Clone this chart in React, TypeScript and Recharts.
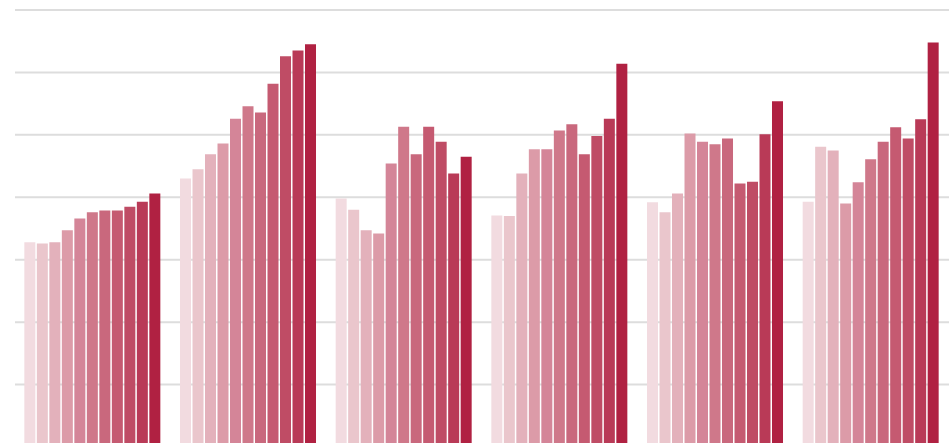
import React from 'react';
import { Bar, BarChart, CartesianGrid, XAxis, YAxis } from 'recharts';

// categories (no labels are shown in the chart)
const categories = ['A', 'B', 'C', 'D', 'E', 'F'];

// one array per category, 11 bars each (light -> dark)
const groupA = [32.8, 32.6, 32.8, 34.7, 36.6, 37.6, 37.9, 37.9, 38.5, 39.3, 40.6];
const groupB = [43.0, 44.5, 46.9, 48.6, 52.6, 54.6, 53.6, 58.2, 62.6, 63.5, 64.5];
const groupC = [39.8, 38.0, 34.7, 34.2, 45.4, 51.3, 46.9, 51.3, 48.9, 43.8, 46.5];
const groupD = [37.1, 37.0, 43.8, 47.7, 47.7, 50.7, 51.7, 46.9, 49.8, 52.6, 61.4];
const groupE = [39.2, 37.6, 40.6, 50.2, 48.9, 48.5, 49.4, 42.2, 42.5, 50.1, 55.4];
const groupF = [39.3, 48.1, 47.5, 39.0, 42.4, 46.1, 48.9, 51.2, 49.4, 52.5, 64.8];

const seriesKeys = ['s1', 's2', 's3', 's4', 's5', 's6', 's7', 's8', 's9', 's10', 's11'];
const seriesColors = [
  '#f2dbe0', '#eac6cc', '#e3b1bb', '#dc9ba8', '#d48598', '#cf788a',
  '#c9687d', '#c55a71', '#bf4c65', '#b93a57', '#b02142',
];
const yTicks = [0, 10, 20, 30, 40, 50, 60, 70];

const groups = [groupA, groupB, groupC, groupD, groupE, groupF];

// build rows for recharts
const data = categories.map((name, i) => {
  const row: Record<string, number | string> = { name };
  seriesKeys.forEach((key, j) => {
    row[key] = groups[i][j];
  });
  return row;
});

export default function App() {
  return (
    <div style={{ position: 'absolute', top: 0, left: 0, width: 949, height: 443, overflow: 'hidden', background: '#fff' }}>
      <BarChart
        width={949}
        height={447}
        data={data}
        margin={{ top: 10, right: 0, left: 15, bottom: 0 }}
        barCategoryGap="6%"
        barGap={1.5}
      >
        <CartesianGrid vertical={false} stroke="#dddddd" strokeWidth={2} />
        <XAxis dataKey="name" hide />
        <YAxis hide domain={[0, 70]} ticks={yTicks} />
        {seriesKeys.map((key, j) => (
          <Bar key={key} dataKey={key} fill={seriesColors[j]} isAnimationActive={false} />
        ))}
      </BarChart>
    </div>
  );
}
